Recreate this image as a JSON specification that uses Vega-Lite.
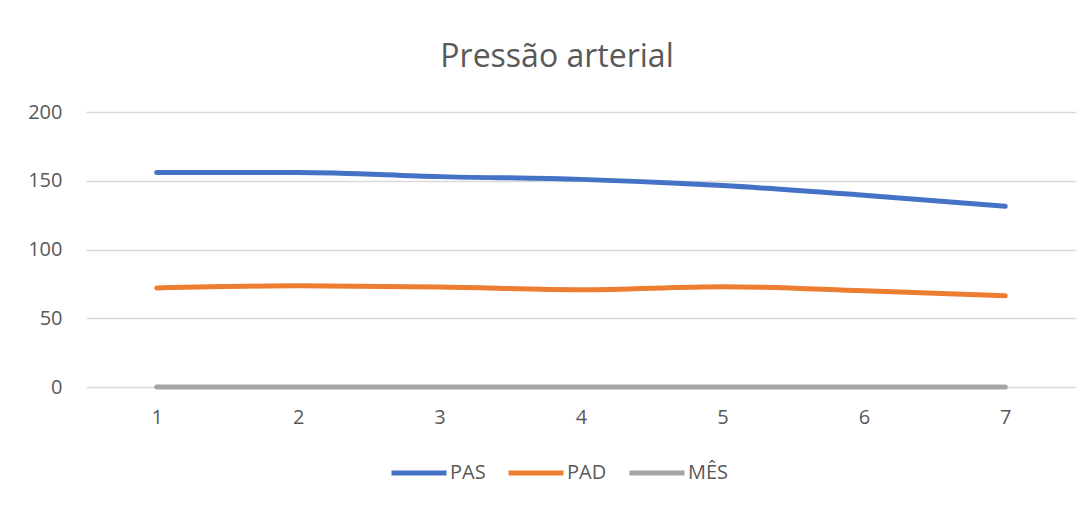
{
  "$schema": "https://vega.github.io/schema/vega-lite/v6.json",
  "width": 990,
  "height": 275,
  "autosize": "none",
  "padding": {"left": 86, "top": 112, "right": 16, "bottom": 118},
  "background": "white",
  "config": {
    "font": "Open Sans",
    "view": {"stroke": null}
  },
  "title": {
    "text": "Pressão arterial",
    "fontSize": 32,
    "fontWeight": "normal",
    "color": "#595959",
    "font": "Open Sans",
    "anchor": "middle",
    "dx": -24,
    "offset": 28
  },
  "data": {
    "values": [
      {"mes": 1, "serie": "PAS", "valor": 156},
      {"mes": 2, "serie": "PAS", "valor": 156},
      {"mes": 3, "serie": "PAS", "valor": 153},
      {"mes": 4, "serie": "PAS", "valor": 151},
      {"mes": 5, "serie": "PAS", "valor": 146.5},
      {"mes": 6, "serie": "PAS", "valor": 139.5},
      {"mes": 7, "serie": "PAS", "valor": 131.5},
      {"mes": 1, "serie": "PAD", "valor": 72},
      {"mes": 2, "serie": "PAD", "valor": 73.6},
      {"mes": 3, "serie": "PAD", "valor": 72.8},
      {"mes": 4, "serie": "PAD", "valor": 70.8},
      {"mes": 5, "serie": "PAD", "valor": 73},
      {"mes": 6, "serie": "PAD", "valor": 70},
      {"mes": 7, "serie": "PAD", "valor": 66.3},
      {"mes": 1, "serie": "MÊS", "valor": 0},
      {"mes": 2, "serie": "MÊS", "valor": 0},
      {"mes": 3, "serie": "MÊS", "valor": 0},
      {"mes": 4, "serie": "MÊS", "valor": 0},
      {"mes": 5, "serie": "MÊS", "valor": 0},
      {"mes": 6, "serie": "MÊS", "valor": 0},
      {"mes": 7, "serie": "MÊS", "valor": 0}
    ]
  },
  "mark": {"type": "line", "interpolate": "monotone", "strokeWidth": 5, "strokeCap": "round"},
  "encoding": {
    "x": {
      "field": "mes",
      "type": "ordinal",
      "scale": {"type": "point", "padding": 0.5},
      "axis": {
        "title": null,
        "labelAngle": 0,
        "labelFontSize": 20,
        "labelColor": "#595959",
        "labelFont": "Open Sans",
        "ticks": false,
        "domain": false,
        "grid": false,
        "labelPadding": 20
      }
    },
    "y": {
      "field": "valor",
      "type": "quantitative",
      "scale": {"domain": [0, 200]},
      "axis": {
        "title": null,
        "values": [0, 50, 100, 150, 200],
        "labelFontSize": 20,
        "labelColor": "#595959",
        "labelFont": "Open Sans",
        "ticks": false,
        "domain": false,
        "gridColor": "#d9d9d9",
        "gridWidth": 1.3,
        "labelPadding": 24
      }
    },
    "color": {
      "field": "serie",
      "type": "nominal",
      "scale": {"domain": ["PAS", "PAD", "MÊS"], "range": ["#4472C4", "#ED7D31", "#A5A5A5"]},
      "legend": {
        "title": null,
        "orient": "none",
        "direction": "horizontal",
        "legendX": 303,
        "legendY": 331,
        "symbolType": "stroke",
        "symbolSize": 3025,
        "symbolStrokeWidth": 5,
        "labelFontSize": 20,
        "labelColor": "#595959",
        "labelFont": "Open Sans",
        "labelOffset": 1,
        "columnPadding": 12
      }
    },
    "sort": null
  }
}
